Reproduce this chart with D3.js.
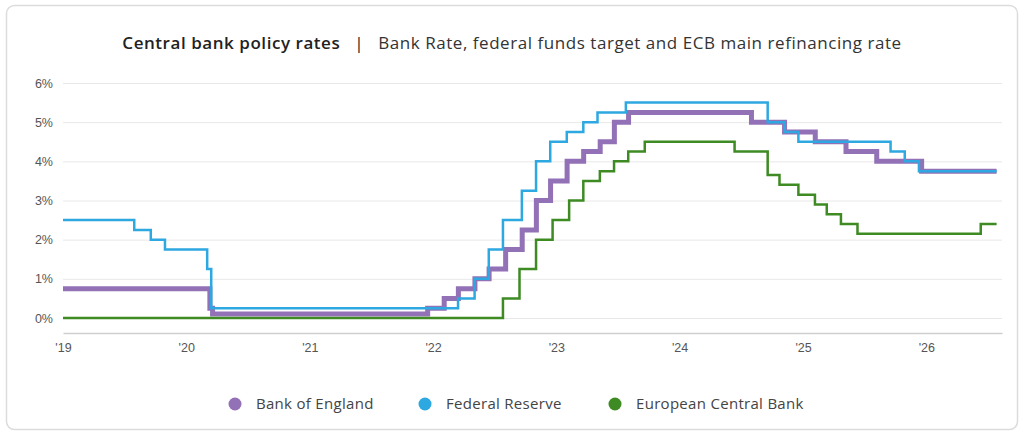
<!DOCTYPE html>
<html>
<head>
<meta charset="utf-8">
<script src="https://cdn.jsdelivr.net/npm/d3@7"></script>
<style>
  body { margin: 0; background: #fff; }
  svg { display: block; font-family: "Open Sans", sans-serif; }
  .grid line { stroke: #e8e8e8; }
  .tick text { fill: #555; font-size: 12.5px; }
</style>
</head>
<body>
<div id="chart"></div>
<script>
// series data: step change dates and rates (%)
const boeDates = ["2019-01-01","2020-03-11","2020-03-19","2021-12-16","2022-02-03","2022-03-17","2022-05-05","2022-06-16","2022-08-04","2022-09-22","2022-11-03","2022-12-15","2023-02-02","2023-03-23","2023-05-11","2023-06-22","2023-08-03","2024-08-01","2024-11-07","2025-02-06","2025-05-08","2025-08-07","2025-12-18","2026-07-28"];
const boeRates = [0.75,0.25,0.10,0.25,0.50,0.75,1.00,1.25,1.75,2.25,3.00,3.50,4.00,4.25,4.50,5.00,5.25,5.00,4.75,4.50,4.25,4.00,3.75,3.75];

const fedDates = ["2019-01-01","2019-07-31","2019-09-18","2019-10-30","2020-03-03","2020-03-15","2022-03-16","2022-05-04","2022-06-15","2022-07-27","2022-09-21","2022-11-02","2022-12-14","2023-02-01","2023-03-22","2023-05-03","2023-07-26","2024-09-18","2024-11-07","2024-12-18","2025-09-17","2025-10-29","2025-12-10","2026-07-28"];
const fedRates = [2.50,2.25,2.00,1.75,1.25,0.25,0.50,1.00,1.75,2.50,3.25,4.00,4.50,4.75,5.00,5.25,5.50,5.00,4.75,4.50,4.25,4.00,3.75,3.75];

const ecbDates = ["2019-01-01","2022-07-27","2022-09-14","2022-11-02","2022-12-21","2023-02-08","2023-03-22","2023-05-10","2023-06-21","2023-08-02","2023-09-20","2024-06-12","2024-09-18","2024-10-23","2024-12-18","2025-02-05","2025-03-12","2025-04-23","2025-06-11","2026-06-11","2026-07-28"];
const ecbRates = [0,0.50,1.25,2.00,2.50,3.00,3.50,3.75,4.00,4.25,4.50,4.25,3.65,3.40,3.15,2.90,2.65,2.40,2.15,2.40,2.40];

const seriesNames = ["Bank of England","Federal Reserve","European Central Bank"];
const yTicks = [0,1,2,3,4,5,6];
const xTickYears = [2019,2020,2021,2022,2023,2024,2025,2026];

(function(){
    const svgWidth = 1024, svgHeight = 435;
    const margin = { top: 83, right: 22, bottom: 102, left: 63 };
    const width = svgWidth - margin.left - margin.right;

    const colors = ["#9271b6", "#2ea8e0", "#3e8a23"];
    const strokes = [5, 2.5, 2.5];

    const parse = d3.timeParse("%Y-%m-%d");
    const series = [
        boeDates.map((d, i) => ({ date: parse(d), value: boeRates[i] })),
        fedDates.map((d, i) => ({ date: parse(d), value: fedRates[i] })),
        ecbDates.map((d, i) => ({ date: parse(d), value: ecbRates[i] }))
    ];

    const svg = d3.select("#chart").append("svg")
        .attr("width", svgWidth)
        .attr("height", svgHeight);

    // card outline
    svg.append("rect")
        .attr("x", 6.5).attr("y", 5.5)
        .attr("width", 1011).attr("height", 424)
        .attr("rx", 8)
        .attr("fill", "#fff")
        .attr("stroke", "#dcdcdc")
        .attr("stroke-width", 1.5);

    // title
    const title = svg.append("text")
        .attr("x", 512).attr("y", 49)
        .attr("text-anchor", "middle")
        .style("font-size", "17px")
        .style("letter-spacing", "0.55px")
        .attr("fill", "#222");
    title.append("tspan").style("font-weight", 600).text("Central bank policy rates");
    title.append("tspan").attr("dx", 14).style("font-weight", 400).text("|");
    title.append("tspan").attr("dx", 14).style("font-weight", 400).attr("fill", "#333")
        .text("Bank Rate, federal funds target and ECB main refinancing rate");

    const x = d3.scaleTime()
        .domain([parse("2019-01-01"), parse("2026-08-13")])
        .range([0, width]);

    const y = d3.scaleLinear()
        .domain([0, 6])
        .range([318 - margin.top, 0]);

    const chartGroup = svg.append("g")
        .attr("transform", `translate(${margin.left}, ${margin.top})`);

    // horizontal gridlines + y labels
    const yAxis = chartGroup.append("g")
        .attr("class", "grid")
        .call(d3.axisLeft(y).tickValues(yTicks).tickSize(-width).tickFormat(d => d + "%"));
    yAxis.select(".domain").remove();
    yAxis.selectAll(".tick text").attr("x", -10).attr("text-anchor", "end");

    // x axis line below the zero line
    const axisY = 333 - margin.top;
    const xAxis = chartGroup.append("g")
        .attr("transform", `translate(0, ${axisY})`)
        .call(d3.axisBottom(x)
            .tickValues(xTickYears.map(yr => new Date(yr, 0, 1)))
            .tickSize(0)
            .tickPadding(10)
            .tickFormat(d => "'" + d3.timeFormat("%y")(d)));
    xAxis.select(".domain").attr("stroke", "#cfcfcf").attr("stroke-width", 1.5);

    // step lines
    const line = d3.line()
        .x(d => x(d.date))
        .y(d => y(d.value))
        .curve(d3.curveStepAfter);

    chartGroup.selectAll(".rate-line")
        .data(series)
        .enter()
        .append("path")
        .attr("class", "rate-line")
        .attr("d", line)
        .attr("fill", "none")
        .attr("stroke", (d, i) => colors[i])
        .attr("stroke-width", (d, i) => strokes[i]);

    // legend
    const legendX = [235, 425, 615];
    const legend = svg.selectAll(".legend")
        .data(seriesNames)
        .enter()
        .append("g")
        .attr("class", "legend")
        .attr("transform", (d, i) => `translate(${legendX[i]}, 404)`);
    legend.append("circle")
        .attr("r", 6.5)
        .attr("fill", (d, i) => colors[i]);
    legend.append("text")
        .attr("x", 21).attr("y", 5)
        .style("font-size", "15px")
        .style("letter-spacing", "0.3px")
        .attr("fill", "#444")
        .text(d => d);
})();
</script>
</body>
</html>
